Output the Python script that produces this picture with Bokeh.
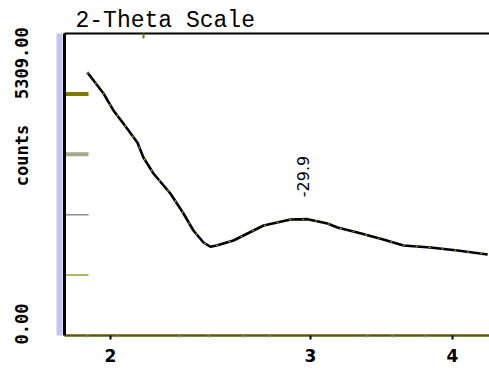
import math
from bokeh.plotting import figure
from bokeh.models import FixedTicker, LogAxis, LinearAxis, Range1d
from bokeh.embed import file_html
from bokeh.resources import INLINE
from bokeh.core.properties import value

# ---- data ----
two_theta = [1.908, 1.972, 2.012, 2.053, 2.112, 2.138, 2.182, 2.258, 2.319, 2.366,
             2.415, 2.449, 2.480, 2.566, 2.728, 2.881, 2.982, 3.105, 3.168, 3.299,
             3.477, 3.622, 3.825, 4.042, 4.296]
counts = [4629, 4254, 3956, 3727, 3393, 3129, 2848, 2496, 2145, 1846,
          1635, 1560, 1582, 1670, 1934, 2039, 2045, 1969, 1899, 1811,
          1688, 1582, 1547, 1494, 1424]
peak_label = ["-29.9"]
x_ticks = [2, 3, 4]
x_tick_labels = ["2", "3", "4"]
x_minor_ticks = [1.91, 2.03, 2.30, 2.44, 2.62, 2.76, 3.37, 3.54, 3.79]
top_ticks = [2.138]
y_max = 5309.0
y_labels = ["0.00", "counts", "5309.00"]
title = "2-Theta Scale"
x_start, x_end = 1.822, 4.312

# ---- layout / style (not data) ----
# the y labels are written along the axis, "0.00" starting at the bottom,
# "5309.00" ending at the top, "counts" in the upper half (label centres)
y_label_anchor = [y_max * 0.038, y_max * 0.596, y_max * 0.902]
y_inner_ticks = [y_max * k / 5 for k in range(1, 5)]
tick_colors = ["#9a9a30", "#8c8c8c", "#a8a88a", "#807800"]
tick_widths = [1.5, 1.5, 4, 4]

# peak position from the data
ipk = max(range(12, len(counts)), key=lambda i: counts[i])
peak_x, peak_y = [two_theta[ipk]], [counts[ipk]]

p = figure(width=489, height=370, x_axis_type="log",
           x_range=Range1d(x_start, x_end), y_range=Range1d(0, y_max),
           output_backend="svg", toolbar_location=None,
           min_border_left=64, min_border_right=0, min_border_bottom=35, min_border_top=33)
p.xgrid.visible = False
p.ygrid.visible = False
p.outline_line_color = None
p.background_fill_color = "white"
p.border_fill_color = "white"

p.title.text = title
p.title.text_font = "Liberation Mono"
p.title.text_font_size = "23px"
p.title.text_font_style = "normal"
p.title.text_color = "black"
p.title.offset = 11
p.title.standoff = 0

# bottom axis
xa = p.xaxis[0]
xa.ticker = FixedTicker(ticks=x_ticks, minor_ticks=x_minor_ticks)
xa.major_label_overrides = {t: l for t, l in zip(x_ticks, x_tick_labels)}
xa.axis_line_color = "#5a5a10"
xa.axis_line_width = 2.5
xa.major_tick_in = 0
xa.major_tick_out = 4
xa.major_tick_line_color = "black"
xa.major_tick_line_width = 2
xa.minor_tick_in = 0
xa.minor_tick_out = 2
xa.minor_tick_line_color = "#9a9a80"
xa.minor_tick_line_width = 2
xa.major_label_standoff = 9
xa.major_label_text_font = "DejaVu Sans"
xa.major_label_text_font_style = "bold"
xa.major_label_text_font_size = "17px"
xa.major_label_text_color = "black"

# left axis: black line (inner), its invisible outer ticks give the band its place
ya = p.yaxis[0]
ya.ticker = FixedTicker(ticks=[0])
ya.major_label_overrides = {0: ""}
ya.axis_line_color = "black"
ya.axis_line_width = 3
ya.major_tick_line_color = None
ya.major_tick_in = 0
ya.major_tick_out = 5
ya.minor_tick_in = 0
ya.minor_tick_out = 0
ya.major_label_text_font_size = "1px"
ya.major_label_standoff = 0

# lavender band + the rotated labels
ba = LinearAxis(ticker=FixedTicker(ticks=y_label_anchor),
                major_label_overrides={t: l for t, l in zip(y_label_anchor, y_labels)},
                axis_line_color="#c4c4f0", axis_line_width=6,
                major_tick_line_color=None, major_tick_in=0, major_tick_out=0,
                minor_tick_in=0, minor_tick_out=0,
                major_label_orientation="vertical",
                major_label_text_font="DejaVu Sans Mono",
                major_label_text_font_style="bold",
                major_label_text_font_size="17px",
                major_label_text_color="black",
                major_label_standoff=27)
p.add_layout(ba, "left")

# top axis line
ta = LogAxis(ticker=FixedTicker(ticks=top_ticks), axis_line_color="black", axis_line_width=2,
             major_tick_in=5, major_tick_out=0, major_tick_line_color="#807800",
             major_tick_line_width=2, minor_tick_in=0, minor_tick_out=0,
             major_label_overrides={top_ticks[0]: ""},
             major_label_text_font_size="1px", major_label_standoff=0)
p.add_layout(ta, "above")

# inner y ticks
p.ray(x=[x_start] * 4, y=y_inner_ticks, length=24, angle=0, length_units="screen",
      line_color=tick_colors, line_width=tick_widths)

# curve
p.line(two_theta, counts, line_color="black", line_width=2.6)
p.line(two_theta, counts, line_color="#a89c20", line_width=1.2, line_dash="2 11")

# peak label
p.text(x=peak_x, y=peak_y, text=peak_label, angle=math.pi / 2, text_align="left",
       text_baseline="middle", x_offset=-5, y_offset=-22, text_font=value("DejaVu Sans"),
       text_font_size="16px", text_color="black")

open("out.html", "w").write(file_html(p, INLINE))
